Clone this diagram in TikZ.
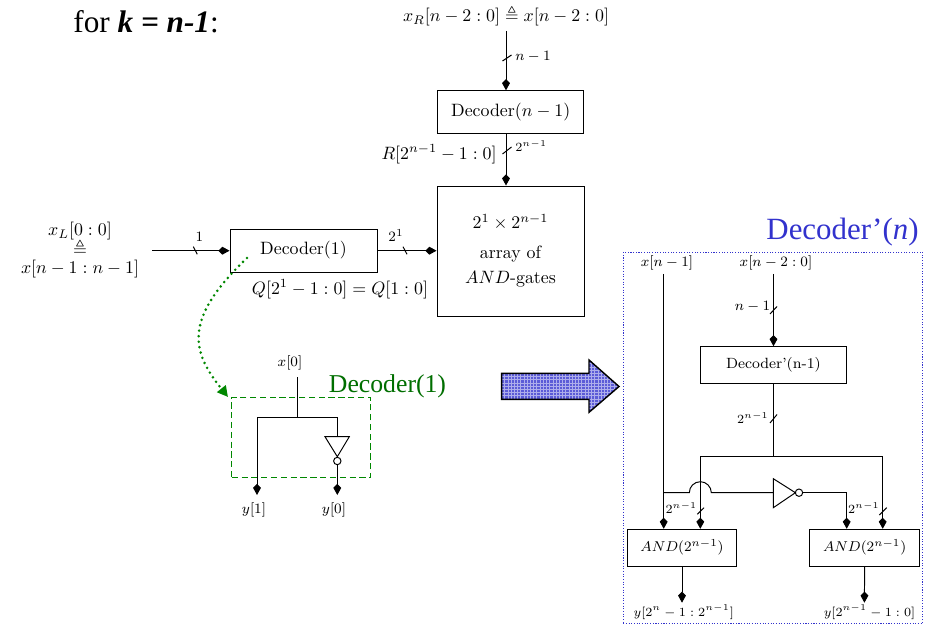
\documentclass[tikz,border=0pt]{standalone}
\usepackage{fontspec}
\usepackage{amssymb}
\usetikzlibrary{arrows.meta,patterns,calc}
\newfontfamily\tnr{Liberation Serif}
\def\px{0.56pt}
\definecolor{dkgreen}{RGB}{0,110,0}
\definecolor{midgreen}{RGB}{0,135,0}
\definecolor{myblue}{RGB}{50,50,205}
\pgfdeclarepatternformonly{finegrid}{\pgfqpoint{-0.5pt}{-0.5pt}}{\pgfqpoint{1.8pt}{1.8pt}}{\pgfqpoint{1.8pt}{1.8pt}}{
  \pgfsetlinewidth{0.35pt}
  \pgfpathmoveto{\pgfqpoint{0pt}{0pt}}\pgfpathlineto{\pgfqpoint{1.8pt}{0pt}}
  \pgfpathmoveto{\pgfqpoint{0pt}{0pt}}\pgfpathlineto{\pgfqpoint{0pt}{1.8pt}}
  \pgfusepath{stroke}}
\newcommand{\slashmark}[4]{\draw[wire] (#1,#2) -- (#3,#4);}
\tikzset{
  wire/.style={line width=0.55pt},
  arr/.style={wire,-{Kite[length=6.2pt,width=4.4pt,inset=2.2pt]}},
  box/.style={draw,line width=0.55pt,inner sep=0pt,align=center},
  lab/.style={inner sep=0pt,font=\fontsize{8}{10}\selectfont},
  labs/.style={inner sep=0pt,font=\fontsize{7.3}{9}\selectfont},
  labo/.style={inner sep=0pt,font=\fontsize{7.5}{9}\selectfont},
  labm/.style={inner sep=0pt,font=\fontsize{9.75}{11}\selectfont},
  txt/.style={inner sep=0pt},
  bubble/.style={circle,draw,fill=white,line width=0.55pt,minimum size=7.4*\px,inner sep=0pt},
}
\begin{document}
\begin{tikzpicture}[x=\px,y=-\px]
\useasboundingbox (0,0) rectangle (935,624);
% title
\node[txt,anchor=west,font=\fontsize{17.5}{20}\tnr] (title) at (73,22) {for \textbf{\textit{k = n-1}}:};
% top decoder
\node[labm] (xr) at (506,16) {$x_R[n-2:0]\triangleq x[n-2:0]$};
\coordinate (xrs) at (506,31);
\node[box,minimum width=146*\px,minimum height=43*\px] (dec) at (510.7,112.3) {Decoder$(n-1)$};
\node[box,minimum width=147*\px,minimum height=130*\px] (arr) at (510.5,251) {};
\node[txt] (a1) at (510.5,222) {$2^1\times 2^{n-1}$};
\node[txt] (a2) at (510.5,254) {array of};
\node[txt] (a3) at (510.5,279) {$AND$-gates};
\draw[arr] (xrs) -- (xrs |- dec.north);
\draw[arr] (xrs |- dec.south) -- (xrs |- arr.north);
\slashmark{502.5}{61}{511.5}{55}
\slashmark{502.5}{154}{511.5}{147}
\node[lab,anchor=west] (ln1) at (515,57) {$n-1$};
\node[txt,anchor=east] (lr) at (497,154) {$R[2^{n-1}-1:0]$};
\node[labs,anchor=west] (l2n) at (515,146) {$2^{n-1}$};
% left decoder
\node[box,minimum width=147*\px,minimum height=43*\px] (d1) at (303.5,250.5) {Decoder(1)};
\coordinate (in1) at (152,250.7);
\draw[arr] (in1) -- (in1 -| d1.west);
\draw[arr] (d1.east |- in1) -- (arr.west |- in1);
\slashmark{193.3}{246.7}{197.3}{254.3}
\slashmark{403}{246.7}{407}{254.3}
\node[lab] (l1) at (199.5,237) {$1$};
\node[lab] (l21) at (396,236) {$2^1$};
\node[txt] (xl1) at (80,231) {$x_L[0:0]$};
\node[txt] (xl2) at (80,248) {$\triangleq$};
\node[txt] (xl3) at (80,269) {$x[n-1:n-1]$};
\node[txt] (q) at (340,289) {$Q[2^1-1:0]=Q[1:0]$};
% small decoder
\node[draw=midgreen,line width=0.7pt,dash pattern=on 3.5pt off 2pt,minimum width=139*\px,minimum height=80.4*\px,inner sep=0pt] (gbox) at (301.2,437.5) {};
\node[txt,text=dkgreen,font=\fontsize{14.4}{16}\tnr] (gl) at (387.5,386) {Decoder(1)};
\coordinate (gstart) at (247,258);
\coordinate (gend) at (228,397);
\draw[midgreen,line width=1.6pt,line cap=round,dash pattern=on 0pt off 3.1pt,-{Triangle[length=6pt,width=6pt]}]
  (gstart) .. controls (182,320) and (192,352) .. (gend);
\node[lab] (x0) at (290,363) {$x[0]$};
\coordinate (x0s) at (297.3,377);
\coordinate (j0) at (297.3,417);
\coordinate (jl) at (257,417);
\coordinate (jr) at (337.3,417);
\coordinate (t1) at (325,436.7);
\coordinate (t2) at (349.3,436.7);
\coordinate (t3) at (337.3,456.7);
\node[bubble] (b0) at (337.3,461) {};
\node[lab] (y1) at (254,510) {$y[1]$};
\node[lab] (y0) at (334,510) {$y[0]$};
\coordinate (ay1) at (257,495);
\coordinate (ay0) at (337.3,495);
\draw[wire] (x0s) -- (j0);
\draw[wire] (jl) -- (jr);
\draw[wire] (jr) -- (jr |- t1);
\draw[wire,line join=miter] (t1) -- (t2) -- (t3) -- cycle;
\draw[arr] (jl) -- (ay1);
\draw[arr] (b0.south) -- (ay0);
% big arrow
\fill[myblue!80] (501.7,373.3) -- (589,373.3) -- (589,360) -- (619,386.5) -- (589,412.3) -- (589,399.3) -- (501.7,399.3) -- cycle;
\path[pattern=finegrid,pattern color=myblue!40] (501.7,373.3) -- (589,373.3) -- (589,360) -- (619,386.5) -- (589,412.3) -- (589,399.3) -- (501.7,399.3) -- cycle;
\draw[line width=0.8pt] (501.7,373.3) -- (589,373.3) -- (589,360) -- (619,386.5) -- (589,412.3) -- (589,399.3) -- (501.7,399.3) -- cycle;
% right panel
\node[draw=myblue,line width=0.5pt,dash pattern=on 0.6pt off 0.9pt,minimum width=299.4*\px,minimum height=371*\px,inner sep=0pt] (pan) at (623.3+149.7,252.3+185.5) {};
\node[txt,text=myblue,font=\fontsize{17.3}{20}\tnr] (pl) at (842.5,232) {Decoder’(\textit{n})};
\node[lab] (xn1) at (667,263) {$x[n-1]$};
\node[lab] (xn2) at (776,263) {$x[n-2:0]$};
\coordinate (s1) at (663.7,274);
\coordinate (s2) at (773.5,274);
\node[box,minimum width=146.4*\px,minimum height=37*\px,font=\fontsize{8.3}{10}\selectfont] (dp) at (773.5,365.2) {Decoder’(n-1)};
\node[box,minimum width=109.4*\px,minimum height=37*\px,font=\fontsize{8}{10}\selectfont] (ga) at (682,547.8) {$AND(2^{n-1})$};
\node[box,minimum width=109.3*\px,minimum height=37*\px,font=\fontsize{8}{10}\selectfont] (gb) at (864.6,547.8) {$AND(2^{n-1})$};
\draw[arr] (s2) -- (s2 |- dp.north);
\coordinate (bus) at (773.5,456.3);
\coordinate (busl) at (700.3,456.3);
\coordinate (busr) at (882.7,456.3);
\draw[wire] (dp.south) -- (bus);
\draw[wire] (busl) -- (busr);
\draw[arr] (busl) -- (busl |- ga.north);
\draw[arr] (busr) -- (busr |- gb.north);
\draw[arr] (s1) -- (s1 |- ga.north);
\coordinate (r0) at (663.7,492.7);
\coordinate (tria) at (773.3,478.7);
\coordinate (trib) at (773.3,507.7);
\coordinate (tric) at (795.4,492.7);
\node[bubble] (bp) at (799,492.7) {};
\coordinate (turn) at (846.7,492.7);
\draw[wire] (r0) -- (689.3,492.7) arc[start angle=180,end angle=360,radius=11] -- (773.3,492.7);
\draw[wire] (tria) -- (trib) -- (tric) -- cycle;
\draw[wire] (bp.east) -- (turn);
\draw[arr] (turn) -- (turn |- gb.north);
\slashmark{770}{314}{777}{306.5}
\slashmark{770}{423}{777}{414.5}
\slashmark{697.3}{514.3}{704}{507.7}
\slashmark{879.3}{515}{886.7}{507.7}
\node[lab,anchor=east] (ln) at (770.5,306.5) {$n-1$};
\node[labs,anchor=east] (l2) at (769,418) {$2^{n-1}$};
\node[labs,anchor=east] (l3) at (697.5,508) {$2^{n-1}$};
\node[labs,anchor=east] (l4) at (880,508) {$2^{n-1}$};
\coordinate (oa) at (682,602.7);
\coordinate (ob) at (864.4,602.7);
\draw[arr] (ga.south) -- (oa);
\draw[arr] (gb.south) -- (ob);
\node[labo] (ya) at (683.7,612) {$y[2^n-1:2^{n-1}]$};
\node[labo] (yb) at (869.5,612) {$y[2^{n-1}-1:0]$};
\end{tikzpicture}
\end{document}
